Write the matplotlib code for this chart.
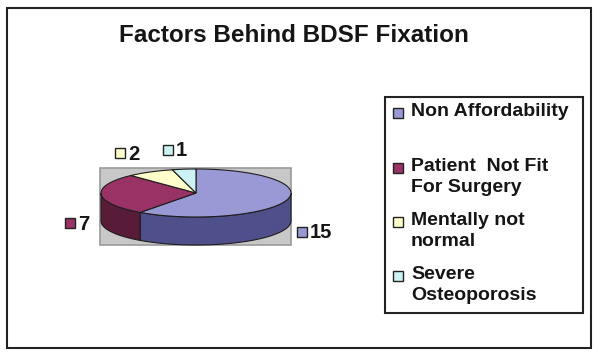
import numpy as np
import matplotlib

matplotlib.use("Agg")
import matplotlib.pyplot as plt
from matplotlib.patches import Polygon, Rectangle

plt.rcParams["font.family"] = ["Liberation Sans", "DejaVu Sans"]

TITLE = "Factors Behind BDSF Fixation"
categories = [
    "Non Affordability",
    "Patient  Not Fit\nFor Surgery",
    "Mentally not\nnormal",
    "Severe\nOsteoporosis",
]
values = [15, 7, 2, 1]
top_colors = ["#9999d6", "#993366", "#ffffcc", "#ccf2f5"]
side_colors = ["#4f4f8c", "#581b38", "#c8c89a", "#9cc0c4"]

# pie geometry in pixel coordinates (y grows downwards)
CX, CY, RX, RY, DEPTH = 196, 193, 95, 24, 28
EDGE = "#1e1e1e"


def arc(t0, t1, dy=0.0, n=80):
    t = np.radians(np.linspace(t0, t1, n))
    return np.column_stack([CX + RX * np.cos(t), CY + dy - RY * np.sin(t)])


fig = plt.figure(figsize=(6.0, 3.56), dpi=100)
ax = fig.add_axes([0, 0, 1, 1])
ax.set_xlim(0, 600)
ax.set_ylim(356, 0)
ax.axis("off")

# outer chart frame
ax.add_patch(Rectangle((7, 8), 584, 340, fill=False, ec="#222222", lw=1.5))
ax.text(294, 36, TITLE, ha="center", va="center", fontsize=17.5, fontweight="bold", color="#151515")

# plot area behind the pie
ax.add_patch(Rectangle((100, 168), 191, 77, fc="#c8c8c8", ec="#9a9a9a", lw=1.2, zorder=1))

# slice angles: clockwise from 12 o'clock
fractions = np.array(values, dtype=float) / sum(values)
ends = 90 - 360 * np.cumsum(fractions)
starts = np.concatenate([[90], ends[:-1]])

# side walls (only the front half, 180..360 deg, is visible)
for s, e, col in zip(starts, ends, side_colors):
    a, b = max(e, -180), min(s, 0)
    if a < b:
        upper = arc(a, b)
        lower = arc(b, a, dy=DEPTH)
        ax.add_patch(Polygon(np.vstack([upper, lower]), closed=True, fc=col, ec=EDGE, lw=0.8, zorder=2))

# top faces
for s, e, col in zip(starts, ends, top_colors):
    pts = np.vstack([[CX, CY], arc(s, e)])
    ax.add_patch(Polygon(pts, closed=True, fc=col, ec=EDGE, lw=0.8, zorder=3))

# data labels
label_pos = [(302, 232), (70, 223), (120, 153), (168, 150)]
for (x, y), v, col in zip(label_pos, values, top_colors):
    ax.add_patch(Rectangle((x - 5, y - 5), 10, 10, fc=col, ec="#222222", lw=1.0, zorder=4))
    ax.text(x + 8, y + 1, str(v), ha="left", va="center", fontsize=14.5, fontweight="bold", color="#151515")

# legend
ax.add_patch(Rectangle((385, 97), 198, 216, fill=False, ec="#222222", lw=1.5))
legend_y = [113, 168, 222, 276]
for y, name, col in zip(legend_y, categories, top_colors):
    ax.add_patch(Rectangle((393, y - 5), 10, 10, fc=col, ec="#222222", lw=1.0))
    ax.text(411, y - 10, name, ha="left", va="top", fontsize=14, fontweight="bold",
            color="#151515", linespacing=1.28)

fig.savefig("out.png", dpi=100)
